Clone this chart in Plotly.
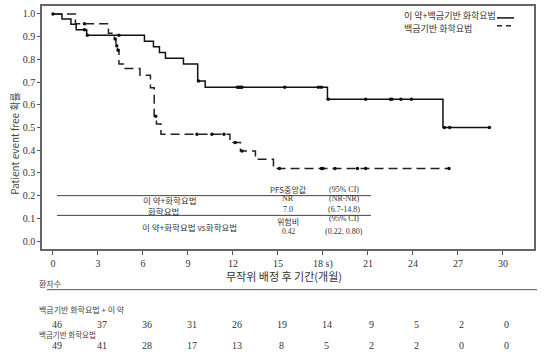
import plotly.graph_objects as go

# ---------------- data ----------------
# Kaplan-Meier steps (month, survival) for each arm
trt_t = [0, 0.6, 1.2, 1.55, 2.25, 6.1, 6.7, 7.1, 7.5, 8.7, 9.65, 10.15, 18.3, 26.0, 29.1]
trt_s = [1.0, 0.978, 0.955, 0.93, 0.906, 0.88, 0.856, 0.83, 0.805, 0.78, 0.705, 0.677, 0.624, 0.5, 0.5]
trt_cens = [0, 2.1, 2.3, 4.4, 9.7, 12.3, 12.4, 12.5, 12.6, 15.45, 17.7, 17.9, 18.35,
            20.85, 22.5, 22.6, 23.2, 23.9, 26.1, 26.45, 29.1]

ctl_t = [0, 1.5, 3.7, 4.1, 4.2, 4.3, 4.4, 4.7, 5.8, 6.5, 6.75, 6.9, 7.2, 11.8, 12.5, 13.5, 14.7, 26.4]
ctl_s = [1.0, 0.957, 0.915, 0.89, 0.86, 0.84, 0.78, 0.76, 0.73, 0.675, 0.55, 0.515, 0.47, 0.434,
         0.397, 0.36, 0.32, 0.32]
ctl_cens = [2.1, 4.15, 4.25, 4.35, 6.85, 9.6, 10.6, 11.4, 12.15, 12.6, 15.1, 17.9, 18.0,
            18.8, 20.3, 20.85, 26.4]

x_ticks = [0, 3, 6, 9, 12, 15, 18, 21, 24, 27, 30]
x_tick_labels = ["0", "3", "6", "9", "12", "15", "18 s)", "21", "24", "27", "30"]
y_ticks = [0.0, 0.1, 0.2, 0.3, 0.4, 0.5, 0.6, 0.7, 0.8, 0.9, 1.0]

risk_trt = [46, 37, 36, 31, 26, 19, 14, 9, 5, 2, 0]
risk_ctl = [49, 41, 28, 17, 13, 8, 5, 2, 2, 0, 0]

name_trt = "이 약+백금기반 화학요법"
name_ctl = "백금기반 화학요법"

table_rows = [
    ("PFS중앙값", "(95% CI)"),
    ("NR", "(NR-NR)"),
    ("7.0", "(6.7-14.8)"),
    ("위험비", "(95% CI)"),
    ("0.42", "(0.22, 0.80)"),
]
table_left = ["이 약+화학요법", "화학요법", "이 약+화학요법 vs화학요법"]


def step_at(ts, ss, t):
    v = ss[0]
    for ti, si in zip(ts, ss):
        if ti <= t:
            v = si
    return v


# ---------------- layout helpers ----------------
W, H = 545, 354
L, R, T, B = 42, 534, 4, 249


def px(xp):
    return (xp - L) / (R - L)


def py(yp):
    return (B - yp) / (B - T)


KR = "Noto Sans CJK KR"
SERIF = "Liberation Serif"

fig = go.Figure()

fig.add_trace(go.Scatter(x=trt_t, y=trt_s, mode="lines", line=dict(shape="hv", color="#111111", width=1.5),
                         showlegend=False, hoverinfo="skip"))
fig.add_trace(go.Scatter(x=ctl_t, y=ctl_s, mode="lines",
                         line=dict(shape="hv", color="#222222", width=1.5, dash="9px,5px"),
                         showlegend=False, hoverinfo="skip"))
fig.add_trace(go.Scatter(x=trt_cens, y=[step_at(trt_t, trt_s, c) for c in trt_cens], mode="markers",
                         marker=dict(symbol="circle", size=3.5, color="#111111"), showlegend=False))
fig.add_trace(go.Scatter(x=ctl_cens, y=[step_at(ctl_t, ctl_s, c) for c in ctl_cens], mode="markers",
                         marker=dict(symbol="circle", size=3.5, color="#111111"), showlegend=False))

ann = []
shapes = []

# legend
ann.append(dict(x=px(402), y=py(14), xref="paper", yref="paper", text=name_trt, showarrow=False,
                xanchor="left", yanchor="middle", font=dict(family=KR, size=9, color="#333")))
ann.append(dict(x=px(402), y=py(27), xref="paper", yref="paper", text=name_ctl, showarrow=False,
                xanchor="left", yanchor="middle", font=dict(family=KR, size=9, color="#333")))
shapes.append(dict(type="line", xref="paper", yref="paper", x0=px(497), x1=px(514), y0=py(16), y1=py(16),
                   line=dict(color="#111", width=1.5)))
shapes.append(dict(type="line", xref="paper", yref="paper", x0=px(497), x1=px(514), y0=py(24), y1=py(24),
                   line=dict(color="#222", width=1.5, dash="5px,4px")))

# in-plot table
for yv in [0.2, 0.113]:
    shapes.append(dict(type="line", xref="x", yref="y", x0=0.27, x1=21.2, y0=yv, y1=yv,
                       line=dict(color="#444", width=1)))
tab_y = [189, 198, 209, 218, 231]
for (a, b), yp in zip(table_rows, tab_y):
    yp_a = yp + 3 if a == "위험비" else yp
    ann.append(dict(x=px(288), y=py(yp_a), xref="paper", yref="paper", text=a, showarrow=False,
                    xanchor="center", yanchor="middle",
                    font=dict(family=SERIF if a not in ("PFS중앙값", "위험비") else KR,
                              size=7.5 if a == "0.42" else 8, color="#333")))
    ann.append(dict(x=px(344), y=py(yp), xref="paper", yref="paper", text=b, showarrow=False,
                    xanchor="center", yanchor="middle", font=dict(family=SERIF, size=8, color="#333")))
for txt, xp, yp in zip(table_left, [170, 163, 189], [200, 211, 227]):
    ann.append(dict(x=px(xp), y=py(yp), xref="paper", yref="paper", text=txt, showarrow=False,
                    xanchor="center", yanchor="middle", font=dict(family=KR, size=8.5, color="#333")))

# y axis title
ann.append(dict(x=px(15), y=py(143), xref="paper", yref="paper", text="Patient event free 확률",
                textangle=-90, showarrow=False, xanchor="center", yanchor="middle",
                font=dict(family=KR, size=10, color="#444")))

# x axis title
ann.append(dict(x=px(284), y=py(276), xref="paper", yref="paper", text="무작위 배정 후 기간(개월)",
                showarrow=False, xanchor="center", yanchor="middle", font=dict(family=KR, size=11, color="#333")))

# risk table
ann.append(dict(x=px(37), y=py(284), xref="paper", yref="paper", text="환자수", showarrow=False,
                xanchor="left", yanchor="middle", font=dict(family=KR, size=8, color="#444")))
shapes.append(dict(type="line", xref="paper", yref="paper", x0=px(47), x1=px(537), y0=py(290), y1=py(290),
                   line=dict(color="#555", width=1)))
ann.append(dict(x=px(37), y=py(310), xref="paper", yref="paper", text="백금기반 화학요법 + 이 약",
                showarrow=False, xanchor="left", yanchor="middle", font=dict(family=KR, size=8, color="#444")))
ann.append(dict(x=px(37), y=py(335), xref="paper", yref="paper", text="백금기반 화학요법",
                showarrow=False, xanchor="left", yanchor="middle", font=dict(family=KR, size=7.5, color="#444")))
for xv, n1, n2 in zip(x_ticks, risk_trt, risk_ctl):
    ann.append(dict(x=xv, y=py(325), xref="x", yref="paper", text=str(n1), showarrow=False, xshift=4,
                    xanchor="center", yanchor="middle", font=dict(family=SERIF, size=10, color="#333")))
    ann.append(dict(x=xv, y=py(346), xref="x", yref="paper", text=str(n2), showarrow=False, xshift=4,
                    xanchor="center", yanchor="middle", font=dict(family=SERIF, size=10, color="#333")))

fig.update_layout(
    width=W, height=H,
    margin=dict(l=L, r=W - R, t=T, b=H - B),
    paper_bgcolor="white", plot_bgcolor="white",
    annotations=ann, shapes=shapes,
    showlegend=False,
)
fig.update_xaxes(range=[-0.73, 32.07], tickvals=x_ticks, ticktext=x_tick_labels,
                 ticks="outside", ticklen=4, tickcolor="#555", showgrid=False, zeroline=False,
                 showline=True, linecolor="#666", linewidth=1.5, mirror=True,
                 tickfont=dict(family=SERIF, size=10, color="#333"))
fig.update_yaxes(range=[-0.035, 1.035], tickvals=y_ticks, tickformat=".1f",
                 ticks="outside", ticklen=3, tickcolor="#555", showgrid=False, zeroline=False,
                 showline=True, linecolor="#666", linewidth=1.5, mirror=True,
                 tickfont=dict(family=SERIF, size=10, color="#333"))

fig.write_html("out.html")
